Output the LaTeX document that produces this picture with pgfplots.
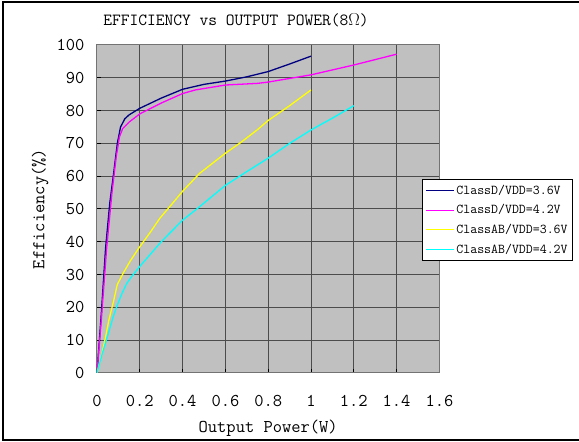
\documentclass[border=0pt]{standalone}
\usepackage{pgfplots}
\pgfplotsset{compat=1.18}
\definecolor{plotbg}{RGB}{192,192,192}
\definecolor{dnavy}{RGB}{0,0,128}
\definecolor{dmag}{RGB}{255,0,255}
\definecolor{dyel}{RGB}{255,255,0}
\definecolor{dcyan}{RGB}{0,255,255}
\begin{document}
\begin{tikzpicture}
\useasboundingbox (0pt,0pt) rectangle (579pt,442pt);
\fill[white] (0pt,0pt) rectangle (579pt,442pt);
\draw[black, line width=1.2pt] (579pt,440pt) -- (3pt,440pt) -- (3pt,2pt) -- (579pt,2pt);
\begin{axis}[
  at={(97pt,69pt)}, anchor=south west,
  scale only axis, width=342.4pt, height=328pt,
  xmin=0, xmax=1.6, ymin=0, ymax=100,
  xtick={0,0.2,0.4,0.6,0.8,1,1.2,1.4,1.6},
  xticklabels={0,0.2,0.4,0.6,0.8,1,1.2,1.4,1.6},
  ytick={0,10,...,100},
  /pgf/number format/assume math mode=true,
  axis background/.style={fill=plotbg},
  axis line style={black!55, line width=1pt},
  grid=major,
  major grid style={black!70, line width=1pt},
  tick style={black, line width=1pt},
  major tick length=4pt,
  tick align=inside,
  xtick pos=bottom, ytick pos=left,
  ticklabel style={font=\ttfamily\fontsize{18}{18}\selectfont},
  xticklabel style={anchor=center, yshift=-28pt},
  yticklabel style={anchor=east, xshift=-9pt},
  title={EFFICIENCY vs OUTPUT POWER(8$\Omega$)},
  title style={font=\ttfamily\fontsize{17}{17}\selectfont, at={(axis description cs:0.406,1)}, anchor=center, yshift=19pt},
  xlabel={Output Power(W)},
  xlabel style={font=\ttfamily\fontsize{18}{18}\selectfont, at={(axis description cs:0.5,0)}, anchor=center, yshift=-55pt},
  ylabel={Efficiency(\%)},
  ylabel style={font=\ttfamily\fontsize{18}{18}\selectfont, at={(axis description cs:-0.166,0.5)}, anchor=center},
  legend style={at={(1,0.5)}, anchor=west, xshift=-17.4pt, yshift=-11pt,
    draw=black, line width=0.8pt, fill=white,
    font=\ttfamily\fontsize{13.5}{13.5}\selectfont,
    inner xsep=3pt, inner ysep=3pt, row sep=5pt,
    nodes={inner sep=2pt}},
  legend cell align=left,
  legend image code/.code={\draw[#1, line width=1pt] (0pt,0pt) -- (28pt,0pt);},
]
\addplot[dnavy, line width=1.3pt] coordinates {
(0,0) (0.02,18) (0.04,38) (0.06,52) (0.076,60) (0.095,70) (0.11,75) (0.13,77.5) (0.15,78.7)
(0.2,80.7) (0.3,83.8) (0.4,86.5) (0.5,88) (0.6,89) (0.7,90.3) (0.8,91.9) (0.9,94.2) (1.0,96.6)};
\addlegendentry{ClassD/VDD=3.6V}
\addplot[dmag, line width=1.3pt] coordinates {
(0,0) (0.02,16) (0.045,38) (0.07,55) (0.09,66) (0.105,72) (0.12,74.5) (0.15,76.5) (0.2,79)
(0.3,82.3) (0.4,85.2) (0.46,86.3) (0.6,87.8) (0.75,88.3) (0.8,88.7) (0.9,89.8) (1.0,90.9)
(1.2,93.9) (1.4,97.2)};
\addlegendentry{ClassD/VDD=4.2V}
\addplot[dyel, line width=1.3pt] coordinates {
(0,0) (0.02,5) (0.037,10) (0.055,16) (0.076,21.5) (0.095,27) (0.123,30.5) (0.154,34) (0.2,38.5)
(0.25,43) (0.294,47.2) (0.35,51.5) (0.4,55.4) (0.48,60.9) (0.6,67) (0.67,70.2) (0.75,74.2)
(0.8,77) (0.9,81.5) (1.0,86.3)};
\addlegendentry{ClassAB/VDD=3.6V}
\addplot[dcyan, line width=1.3pt] coordinates {
(0,0) (0.025,6) (0.053,12) (0.075,17) (0.092,20.2) (0.115,24) (0.139,27.3) (0.162,29.4)
(0.2,32.5) (0.3,40) (0.4,46.6) (0.47,50.2) (0.6,57.2) (0.7,61.4) (0.8,65.5) (0.9,70)
(1.0,74.1) (1.1,77.7) (1.2,81.5)};
\addlegendentry{ClassAB/VDD=4.2V}
\end{axis}
\end{tikzpicture}
\end{document}
